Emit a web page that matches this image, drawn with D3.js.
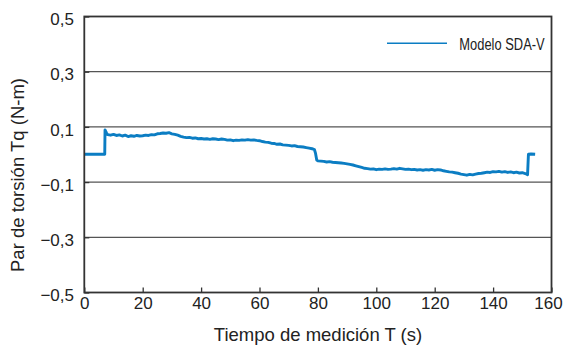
<!DOCTYPE html>
<html>
<head>
<meta charset="utf-8">
<script src="https://cdn.jsdelivr.net/npm/d3@7/dist/d3.min.js"></script>
<style>
  html, body { margin: 0; padding: 0; background: #fff; }
  svg { display: block; font-family: "Liberation Sans", Arial, Helvetica, sans-serif; }
</style>
</head>
<body>
<svg id="chart" width="567" height="347"></svg>
<script>
// ---- Data ----
const seriesName = "Modelo SDA-V";
const time = [
  0, 1, 2, 3, 4, 5, 6, 7, 7.1, 7.6, 8, 9, 10, 11, 12, 13, 14, 15, 16, 17, 18, 19, 20,
  21, 22, 23, 24, 25, 26, 27, 28, 29, 30, 31, 32, 33, 34, 35, 36, 37, 38, 39, 40,
  41, 42, 43, 44, 45, 46, 47, 48, 49, 50, 51, 52, 53, 54, 55, 56, 57, 58, 59, 60,
  61, 62, 63, 64, 65, 66, 67, 68, 69, 70, 71, 72, 73, 74, 75, 76, 77, 78, 78.8, 79.2, 79.6, 80,
  81, 82, 83, 84, 85, 86, 87, 88, 89, 90, 91, 92, 93, 94, 95, 96, 97, 98, 99, 100,
  101, 102, 103, 104, 105, 106, 107, 108, 109, 110, 111, 112, 113, 114, 115, 116, 117, 118, 119, 120,
  121, 122, 123, 124, 125, 126, 127, 128, 129, 130, 131, 132, 133, 134, 135, 136, 137, 138, 139, 140,
  141, 142, 143, 144, 145, 146, 147, 148, 149, 150, 151, 151.8, 152.1, 153, 154.4
];
const torque = [
  0.001, 0.001, 0.001, 0.001, 0.001, 0.001, 0.001, 0.001, 0.089, 0.078, 0.072, 0.070, 0.073, 0.069, 0.071, 0.067, 0.070, 0.065, 0.068, 0.066, 0.069, 0.067, 0.068,
  0.070, 0.069, 0.072, 0.071, 0.075, 0.076, 0.078, 0.077, 0.079, 0.075, 0.073, 0.070, 0.066, 0.063, 0.061, 0.062, 0.059, 0.060, 0.057, 0.058,
  0.056, 0.057, 0.055, 0.057, 0.056, 0.054, 0.056, 0.055, 0.052, 0.053, 0.050, 0.052, 0.051, 0.053, 0.052, 0.054, 0.052, 0.053, 0.051, 0.050,
  0.047, 0.045, 0.044, 0.041, 0.040, 0.037, 0.038, 0.035, 0.034, 0.033, 0.031, 0.032, 0.029, 0.028, 0.027, 0.025, 0.023, 0.021, 0.018, 0.004, -0.020, -0.023,
  -0.024, -0.025, -0.027, -0.026, -0.028, -0.029, -0.030, -0.031, -0.032, -0.034, -0.036, -0.038, -0.041, -0.044, -0.047, -0.050, -0.051, -0.053, -0.052, -0.055,
  -0.053, -0.054, -0.052, -0.054, -0.053, -0.051, -0.053, -0.050, -0.052, -0.054, -0.053, -0.055, -0.054, -0.056, -0.055, -0.057, -0.055, -0.056, -0.054, -0.057,
  -0.055, -0.056, -0.059, -0.061, -0.063, -0.064, -0.066, -0.068, -0.071, -0.073, -0.075, -0.072, -0.074, -0.071, -0.069, -0.068, -0.066, -0.064, -0.065, -0.062,
  -0.063, -0.061, -0.064, -0.062, -0.065, -0.063, -0.066, -0.064, -0.067, -0.066, -0.069, -0.073, 0.001, 0.002, 0.001
];
const xTicks = [0, 20, 40, 60, 80, 100, 120, 140, 160];
const yTicks = [0.5, 0.3, 0.1, -0.1, -0.3, -0.5];
const yTickLabels = ["0,5", "0,3", "0,1", "\u22120,1", "\u22120,3", "\u22120,5"];
const xTitle = "Tiempo de medición T (s)";
const yTitle = "Par de torsión Tq (N-m)";

// ---- Layout ----
const svg = d3.select("#chart");
const mLeft = 84.3, mRight = 551.5, mTop = 16.5, mBottom = 292.5;
const x = d3.scaleLinear().domain([0, 160]).range([mLeft, mRight]);
const y = d3.scaleLinear().domain([-0.5, 0.5]).range([mBottom, mTop]);
const axisColor = "#333";
const lineColor = "#0b7dc3";

// Gridlines
svg.append("g").selectAll("line")
  .data(yTicks.filter(v => v !== 0.5 && v !== -0.5))
  .join("line")
  .attr("x1", mLeft).attr("x2", mRight)
  .attr("y1", d => y(d)).attr("y2", d => y(d))
  .attr("stroke", "#555").attr("stroke-width", 1.3);

// Data line
const pts = time.map((t, i) => [t, torque[i]]);
svg.append("path")
  .datum(pts)
  .attr("fill", "none")
  .attr("stroke", lineColor)
  .attr("stroke-width", 2.9)
  .attr("stroke-linejoin", "round")
  .attr("d", d3.line().x(d => x(d[0])).y(d => y(d[1])));

// Axes (inward ticks) via d3 axes
const xAxis = d3.axisBottom(x).tickValues(xTicks).tickSizeInner(-5).tickSizeOuter(0).tickFormat("");
const gx = svg.append("g").attr("transform", `translate(0,${mBottom})`).call(xAxis);
gx.select(".domain").remove();
gx.selectAll(".tick line").attr("stroke", axisColor).attr("stroke-width", 1.3);

const yAxis = d3.axisLeft(y).tickValues(yTicks).tickSizeInner(-5).tickSizeOuter(0).tickFormat("");
const gy = svg.append("g").attr("transform", `translate(${mLeft},0)`).call(yAxis);
gy.select(".domain").remove();
gy.selectAll(".tick line").attr("stroke", axisColor).attr("stroke-width", 1.3);

// Frame
svg.append("rect")
  .attr("x", mLeft).attr("y", mTop)
  .attr("width", mRight - mLeft).attr("height", mBottom - mTop)
  .attr("fill", "none").attr("stroke", axisColor).attr("stroke-width", 1.8);

// Tick labels
svg.append("g").selectAll("text")
  .data(xTicks)
  .join("text")
  .attr("x", d => x(d) + (d === 160 ? -3 : 0.5))
  .attr("y", 308.5)
  .attr("text-anchor", "middle")
  .attr("font-size", 17)
  .attr("fill", "#222")
  .text(d => d);

svg.append("g").selectAll("text")
  .data(yTicks)
  .join("text")
  .attr("x", 74)
  .attr("y", d => y(d) + 8.6)
  .attr("text-anchor", "end")
  .attr("font-size", 17)
  .attr("fill", "#222")
  .text((d, i) => yTickLabels[i]);

// Axis titles
svg.append("text")
  .attr("x", 318).attr("y", 341)
  .attr("text-anchor", "middle")
  .attr("font-size", 18.5)
  .attr("fill", "#222")
  .text(xTitle);

svg.append("text")
  .attr("transform", "translate(24,175) rotate(-90)")
  .attr("text-anchor", "middle")
  .attr("font-size", 18.5)
  .attr("fill", "#222")
  .text(yTitle);

// Legend
svg.append("line")
  .attr("x1", 387).attr("x2", 447)
  .attr("y1", 43.3).attr("y2", 43.3)
  .attr("stroke", lineColor).attr("stroke-width", 1.6);
svg.append("text")
  .attr("transform", "translate(459.3,49.7) scale(0.76,1)")
  .attr("font-size", 17)
  .attr("fill", "#222")
  .text(seriesName);
</script>
</body>
</html>
